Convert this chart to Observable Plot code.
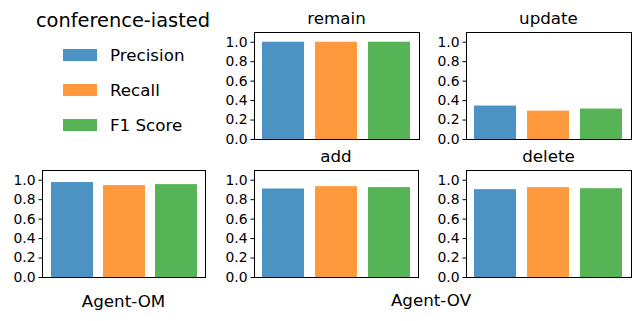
<!DOCTYPE html>
<html>
<head>
<meta charset="utf-8">
<script src="https://cdn.jsdelivr.net/npm/d3@7"></script>
<script src="https://cdn.jsdelivr.net/npm/@observablehq/plot@0.6"></script>
<style>
  html, body { margin: 0; padding: 0; background: #fff; }
  #fig { position: relative; width: 639px; height: 321px; font-family: "DejaVu Sans", sans-serif; color: #000; overflow: hidden; }
  .abs { position: absolute; white-space: nowrap; line-height: 1; }
  .ctr { transform: translate(-50%, -50%); }
  .lft { transform: translate(0, -50%); }
</style>
</head>
<body>
<div id="fig"></div>
<script>
const datasetName = "conference-iasted";
const metrics = ["Precision", "Recall", "F1 Score"];
const metricColors = ["#1f77b4", "#ff7f0e", "#2ca02c"];
const yTicks = [0, 0.2, 0.4, 0.6, 0.8, 1.0];

const agentOM = [0.976, 0.945, 0.955];
const remainVals = [1.0, 1.0, 1.0];
const updateVals = [0.344, 0.292, 0.313];
const addVals = [0.910, 0.934, 0.924];
const deleteVals = [0.903, 0.924, 0.913];

const panels = [
  {title: "remain", values: remainVals, x0: 254, x1: 419, y0: 32, y1: 139},
  {title: "update", values: updateVals, x0: 466, x1: 631, y0: 32, y1: 139},
  {title: null, values: agentOM, x0: 42, x1: 205, y0: 170, y1: 277},
  {title: "add", values: addVals, x0: 254, x1: 418, y0: 170, y1: 277},
  {title: "delete", values: deleteVals, x0: 466, x1: 631, y0: 170, y1: 277}
];

const fig = document.getElementById("fig");
const ML = 40, MR = 1, MT = 1, MB = 1;

function addText(txt, x, y, size, cls) {
  const d = document.createElement("div");
  d.className = "abs " + cls;
  d.style.left = x + "px";
  d.style.top = y + "px";
  d.style.fontSize = size + "px";
  d.textContent = txt;
  fig.appendChild(d);
  return d;
}

for (const p of panels) {
  const data = metrics.map((m, i) => ({metric: m, value: p.values[i]}));
  const w = p.x1 - p.x0, h = p.y1 - p.y0;
  const svg = Plot.plot({
    width: w + ML + MR,
    height: h + MT + MB,
    marginLeft: ML, marginRight: MR, marginTop: MT, marginBottom: MB,
    style: {fontFamily: "DejaVu Sans, sans-serif", color: "#000", background: "transparent", overflow: "visible"},
    x: {domain: metrics, paddingInner: 0.2, paddingOuter: 0.14, axis: null},
    y: {domain: [0, 1.1], axis: null},
    color: {domain: metrics, range: metricColors},
    marks: [
      Plot.barY(data, {x: "metric", y: "value", fill: "metric", fillOpacity: 0.8, inset: 0}),
      Plot.axisY({ticks: yTicks, tickFormat: d3.format(".1f"), tickSize: 3.5, tickPadding: 3.5, fontSize: 13.9, stroke: "#000", fill: "#000", label: null}),
      Plot.frame({stroke: "#000", strokeWidth: 1})
    ]
  });
  svg.style.position = "absolute";
  svg.style.left = (p.x0 - ML) + "px";
  svg.style.top = (p.y0 - MT) + "px";
  fig.appendChild(svg);
  if (p.title) addText(p.title, (p.x0 + p.x1) / 2, p.y0 - 14, 16.7, "ctr");
}

// axis labels
addText("Agent-OM", (42 + 205) / 2, 301, 16.7, "ctr");
addText("Agent-OV", 431, 300, 16.7, "ctr");

// legend
addText(datasetName, 123, 21, 19.4, "ctr");
const legendY = [55, 90, 125];
metrics.forEach((m, i) => {
  const box = document.createElement("div");
  box.className = "abs";
  box.style.left = "63px";
  box.style.top = (legendY[i] - 6) + "px";
  box.style.width = "34px";
  box.style.height = "12px";
  box.style.background = metricColors[i];
  box.style.opacity = 0.8;
  fig.appendChild(box);
  addText(m, 110, legendY[i], 16.7, "lft");
});
</script>
</body>
</html>
